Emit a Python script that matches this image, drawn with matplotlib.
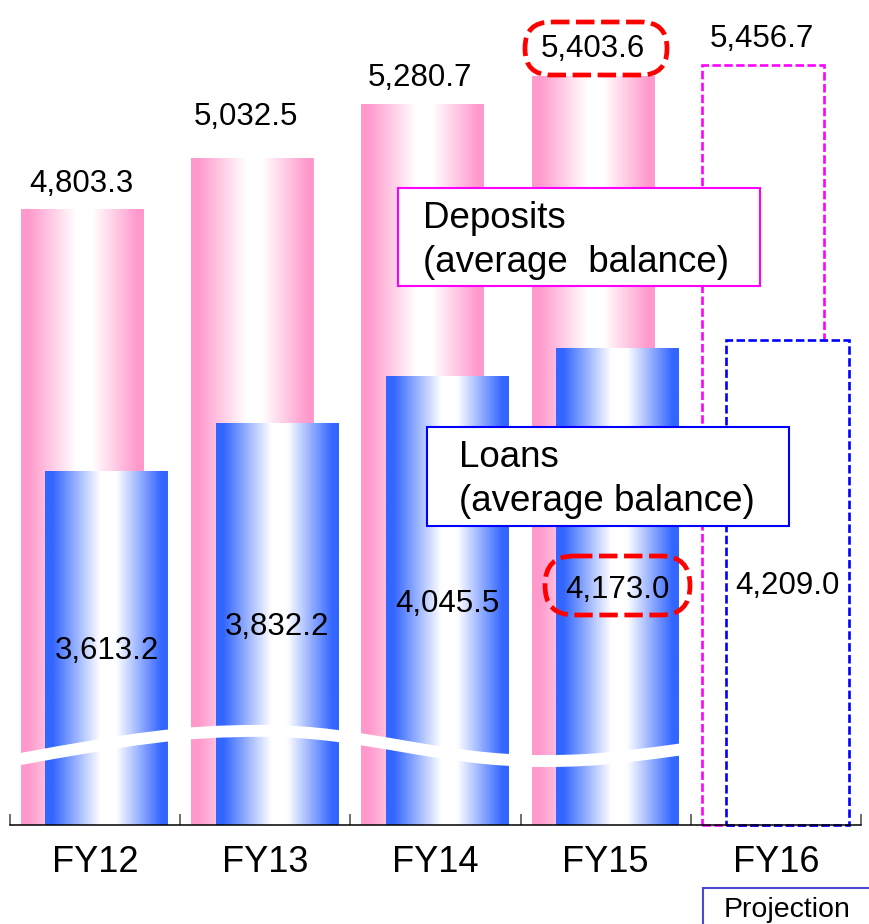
import numpy as np
import matplotlib.pyplot as plt
import matplotlib.transforms as mtransforms
from matplotlib.colors import LinearSegmentedColormap
from matplotlib.patches import Rectangle, FancyBboxPatch, PathPatch
from matplotlib.path import Path

plt.rcParams['font.family'] = ['Liberation Sans', 'DejaVu Sans']

# data
years = ['FY12', 'FY13', 'FY14', 'FY15', 'FY16']
deposits = [4803.3, 5032.5, 5280.7, 5403.6, 5456.7]
loans = [3613.2, 3832.2, 4045.5, 4173.0, 4209.0]
projected = [False, False, False, False, True]

W, H = 870, 924
fig = plt.figure(figsize=(W / 100, H / 100), dpi=100)
ax = fig.add_axes([10 / W, 99 / H, 851 / W, 825 / H])
# pixel coords from top-left corner of the image
px = mtransforms.Affine2D().scale(1 / 100, -1 / 100).translate(0, H / 100) + fig.dpi_scale_trans

base = 2011  # broken axis: bars start here
grad = np.linspace(0, 1, 256).reshape(1, -1)


def make_cmap(name, c):
    return LinearSegmentedColormap.from_list(
        name, [(0, c), (0.06, c), (0.45, 'white'), (0.58, 'white'), (0.95, c), (1, c)])


pink = make_cmap('pinkfade', '#ff99cc')
blue = make_cmap('bluefade', '#3366ff')

x = np.arange(len(years))
w = 0.72
dep_x = x - 0.075
loan_x = x + 0.068


def gradient_bars(xs, vals, cmap, z, edge):
    bars = ax.bar(xs, [v - base for v in vals], w, bottom=base,
                  color='none', linewidth=0, zorder=z)
    for b, proj in zip(bars, projected):
        x0, y0 = b.get_x(), b.get_y()
        x1, y1 = x0 + b.get_width(), y0 + b.get_height()
        if proj:
            b.set_facecolor('white')
            b.set_edgecolor(edge)
            b.set_linewidth(1.9)
            b.set_linestyle((0, (3.2, 1.3)))
            b.set_clip_on(False)
        else:
            ax.imshow(grad, cmap=cmap, extent=[x0, x1, y0, y1],
                      aspect='auto', zorder=z, interpolation='bicubic')
    return bars


gradient_bars(dep_x, deposits, pink, 1, '#ff00ff')
gradient_bars(loan_x, loans, blue, 2, '#0000ff')

ax.set_xlim(-0.5, 4.5)
ax.set_ylim(base, base + 825 / 0.2205)

# wavy white break line across the bars
verts = [(-0.44, 2310), (0.2, 2400), (0.5, 2438), (0.97, 2438),
         (1.6, 2438), (2.0, 2301), (2.64, 2301),
         (3.0, 2301), (3.2, 2330), (3.5, 2360)]
codes = [Path.MOVETO] + [Path.CURVE4] * 9
ax.add_patch(PathPatch(Path(verts, codes), fc='none', ec='white',
                       lw=8.6, capstyle='butt', zorder=3))

# value labels
dep_dx = [-0.5, -6.5, -3, 0, -1]
dep_gap = [17.6, 34, 18, 20, 18]
for xi, v, dx, gap in zip(dep_x, deposits, dep_dx, dep_gap):
    ax.annotate(f'{v:,.1f}', (xi, v), xytext=(dx * 0.72, gap * 0.72),
                textcoords='offset points', ha='center', va='baseline',
                fontsize=22.5, zorder=6)
for xi, v in zip(loan_x, loans):
    ax.annotate(f'{v:,.1f}', (xi, (base + v) / 2), xytext=(0, -8),
                textcoords='offset points', ha='center', va='baseline',
                fontsize=22.5, zorder=6)

# axis
for s in ['left', 'right', 'top']:
    ax.spines[s].set_visible(False)
ax.spines['bottom'].set_linewidth(1.1)
ax.set_yticks([])
ax.set_xticks(x, years, fontsize=26)
ax.tick_params(axis='x', which='major', length=0, pad=14.4)
ax.set_xticks(np.arange(-0.5, len(years)), minor=True)
ax.tick_params(axis='x', which='minor', direction='in', length=8,
               width=1.2, color='#555555')

# legend-like boxes
fig.add_artist(Rectangle((398, 188), 362, 98, transform=px, fc='white',
                         ec='#ff00ff', lw=1.5, zorder=5))
fig.text(423, 228, 'Deposits', transform=px, fontsize=26.5, va='baseline', zorder=6)
fig.text(423, 272, '(average  balance)', transform=px, fontsize=26.5,
         va='baseline', zorder=6)

fig.add_artist(Rectangle((427, 427), 362, 99, transform=px, fc='white',
                         ec='#0000ff', lw=1.5, zorder=5))
fig.text(459, 467, 'Loans', transform=px, fontsize=26.5, va='baseline', zorder=6)
fig.text(459, 511, '(average balance)', transform=px, fontsize=26.5,
         va='baseline', zorder=6)

# highlight ovals around FY15 values
for bx, by, bw, bh in [(525, 22, 142, 53), (545, 556, 145, 59)]:
    r = bh / 2 - 0.5
    fig.add_artist(FancyBboxPatch((bx, by), bw, bh, transform=px,
                                  boxstyle=f'round,pad=0,rounding_size={r}',
                                  fc='none', ec='#ff0000', lw=3.4,
                                  ls=(0, (3.9, 1.4)), zorder=7))

# projection tag
fig.add_artist(Rectangle((703, 888), 175, 45, transform=px, fc='white',
                         ec='#4a4ad0', lw=1.5, zorder=5))
fig.text(787.5, 917, 'Projection', transform=px, fontsize=20.5,
         ha='center', va='baseline', zorder=6)

fig.savefig('out.png', dpi=100)
